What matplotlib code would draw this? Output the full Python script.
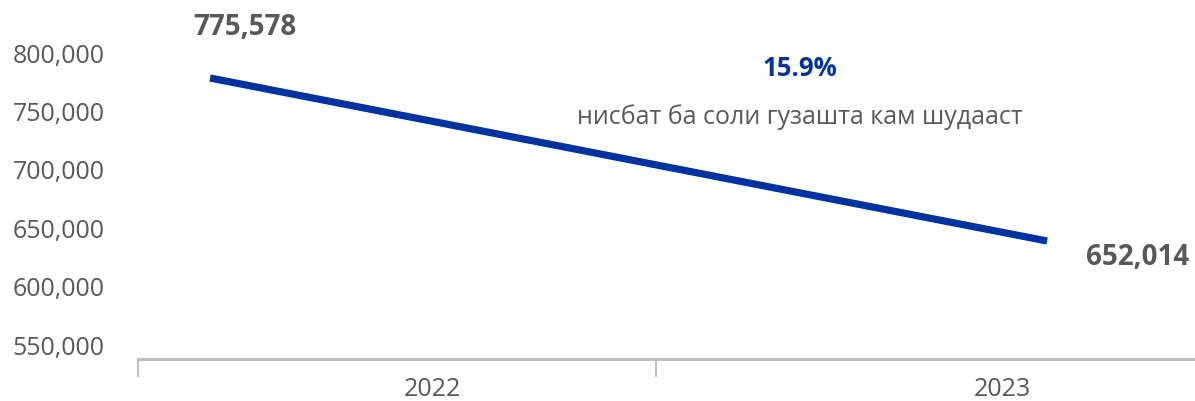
import matplotlib
matplotlib.use("Agg")
import matplotlib.pyplot as plt

# data
years = ["2022", "2023"]
values = [775578, 652014]
change_pct = "15.9%"
change_note = "нисбат ба соли гузашта кам шудааст"
yticks = [550000, 600000, 650000, 700000, 750000, 800000]

# layout (category axis runs 0..2, ticks at the group borders)
line_x = [0.139, 1.755]
label_x = [0.568, 1.668]

GREY = "#595959"
BLUE = "#0033A0"
AXIS = "#BFBFBF"

plt.rcParams["font.family"] = ["Open Sans", "DejaVu Sans"]

fig = plt.figure(figsize=(11.95, 4.02), dpi=100)
ax = fig.add_axes([138 / 1195, 42 / 402, 1 - 138 / 1195, 360 / 402])

# y scale for the tick labels
ax.set_ylim(537158, 845377)
ax.set_yticks(yticks)
ax.set_yticklabels(["{:,}".format(v) for v in yticks])
ax.tick_params(axis="y", length=0, pad=24, labelsize=18, labelcolor=GREY)

ax.set_xlim(0, (1195 - 138) / 518)
ax.set_xticks([0, 1])
ax.set_xticklabels([])
ax.tick_params(axis="x", which="major", length=13, width=1.5, color=AXIS)
ax.set_xticks(label_x, minor=True)
ax.set_xticklabels(years, minor=True)
ax.tick_params(axis="x", which="minor", length=0, pad=12, labelsize=18, labelcolor=GREY)

for s in ["top", "right", "left"]:
    ax.spines[s].set_visible(False)
ax.spines["bottom"].set_color(AXIS)
ax.spines["bottom"].set_linewidth(2.2)

# line on its own (hidden) value axis
lx = ax.twinx()
lx.set_ylim(562560, 835465)
lx.axis("off")
lx.plot(line_x, values, color=BLUE, lw=5.2, solid_capstyle="butt")

offsets = [(25, 37), (65, -11)]
for x, v, off in zip(line_x, values, offsets):
    lx.annotate("{:,}".format(v), (x, v), xytext=off, textcoords="offset points",
                ha="center", va="center", fontsize=20, fontweight="bold", color=GREY)

fig.text(800 / 1195, 1 - 69 / 402, change_pct, ha="center", va="center",
         fontsize=18.5, fontweight="bold", color=BLUE)
fig.text(800 / 1195, 1 - 117 / 402, change_note, ha="center", va="center",
         fontsize=18, color=GREY)

fig.savefig("out.png", dpi=100)
